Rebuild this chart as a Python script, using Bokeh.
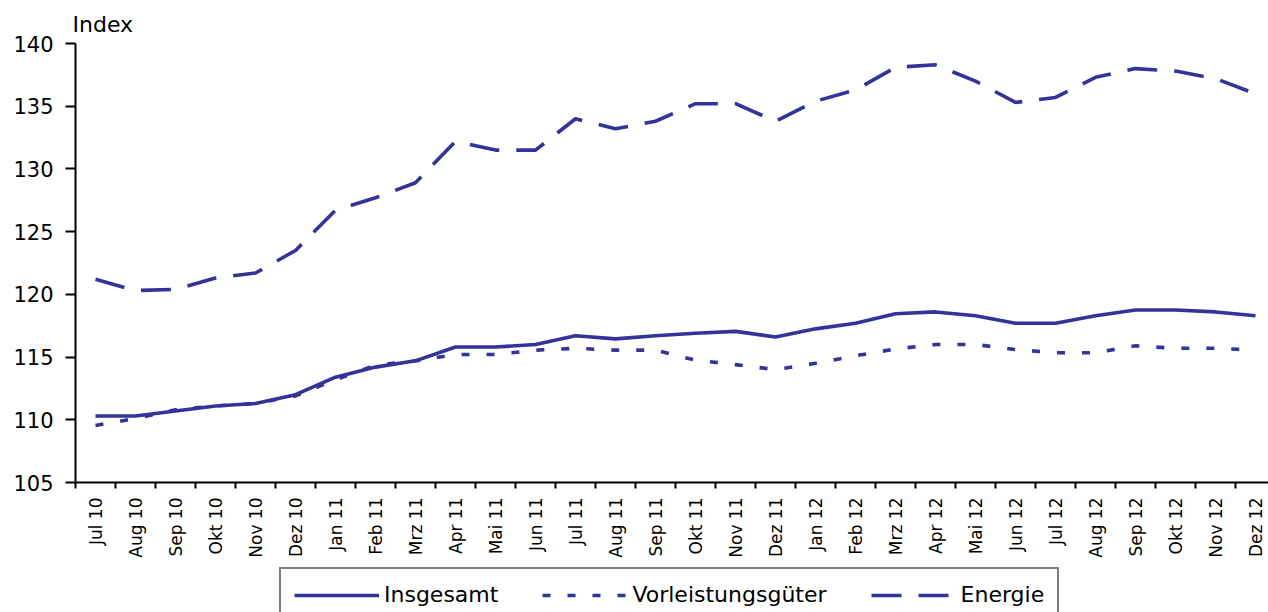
import math
from bokeh.plotting import figure
from bokeh.layouts import column
from bokeh.models import (Range1d, LinearAxis, FixedTicker, Legend, LegendItem, Title)
from bokeh.embed import file_html
from bokeh.resources import INLINE

months = ["Jul 10", "Aug 10", "Sep 10", "Okt 10", "Nov 10", "Dez 10",
          "Jan 11", "Feb 11", "Mrz 11", "Apr 11", "Mai 11", "Jun 11",
          "Jul 11", "Aug 11", "Sep 11", "Okt 11", "Nov 11", "Dez 11",
          "Jan 12", "Feb 12", "Mrz 12", "Apr 12", "Mai 12", "Jun 12",
          "Jul 12", "Aug 12", "Sep 12", "Okt 12", "Nov 12", "Dez 12"]

insgesamt = [110.3, 110.3, 110.7, 111.1, 111.3, 112.0, 113.4, 114.2, 114.7, 115.8,
             115.8, 116.0, 116.7, 116.45, 116.7, 116.9, 117.05, 116.6, 117.25, 117.7,
             118.45, 118.6, 118.3, 117.7, 117.7, 118.3, 118.75, 118.75, 118.6, 118.3]

vorleistung = [109.55, 110.1, 110.8, 111.1, 111.3, 111.9, 113.2, 114.35, 114.7, 115.2,
               115.2, 115.55, 115.7, 115.55, 115.55, 114.75, 114.4, 114.0, 114.5, 115.1,
               115.65, 116.0, 116.0, 115.6, 115.35, 115.35, 115.9, 115.7, 115.7, 115.55]

energie = [121.2, 120.3, 120.4, 121.3, 121.7, 123.5, 126.7, 127.7, 128.9, 132.2,
           131.5, 131.5, 134.0, 133.2, 133.8, 135.2, 135.2, 133.8, 135.4, 136.3,
           138.1, 138.3, 137.0, 135.3, 135.7, 137.3, 138.0, 137.8, 137.2, 136.0]

y_ticks = [105, 110, 115, 120, 125, 130, 135, 140]
series_names = ["Insgesamt", "Vorleistungsgüter", "Energie"]

COLOR = "#333399"
FONT = "DejaVu Sans"
DASHES = [None, "8 17", "30 17"]
LW = 3.6

xs = list(range(len(months)))

p = figure(width=1268, height=560, output_backend="svg", toolbar_location=None,
           x_range=Range1d(-0.5, 29.325), y_range=Range1d(105, 140),
           x_axis_type=None, y_axis_type=None,
           min_border_left=75, min_border_right=0, min_border_top=43, min_border_bottom=75)
p.outline_line_color = None
p.xgrid.visible = False
p.ygrid.visible = False
p.background_fill_color = "white"
p.border_fill_color = "white"

p.title = Title(text="Index", align="left", offset=-3, standoff=13,
                text_font=FONT, text_font_size="22px", text_font_style="normal",
                text_color="black")

p.line(xs, insgesamt, line_color=COLOR, line_width=LW, line_join="round")
p.line(xs, vorleistung, line_color=COLOR, line_width=LW, line_dash=DASHES[1])
p.line(xs, energie, line_color=COLOR, line_width=LW, line_dash=DASHES[2])

# y axis
yax = LinearAxis(ticker=FixedTicker(ticks=y_ticks))
yax.axis_line_color = "black"
yax.axis_line_width = 2
yax.major_tick_line_color = "black"
yax.major_tick_line_width = 2
yax.major_tick_out = 10
yax.major_tick_in = 0
yax.minor_tick_out = 0
yax.minor_tick_in = 0
yax.major_label_standoff = 12
yax.major_label_text_font = FONT
yax.major_label_text_font_size = "21px"
yax.major_label_text_color = "black"
p.add_layout(yax, "left")

# x axis: labels at month centres, tick marks between months
xax = LinearAxis(ticker=FixedTicker(ticks=xs, minor_ticks=[i - 0.5 for i in range(len(months) + 1)]))
xax.major_label_overrides = {i: m for i, m in enumerate(months)}
xax.major_label_orientation = math.pi / 2
xax.axis_line_color = "black"
xax.axis_line_width = 2
xax.major_tick_out = 0
xax.major_tick_in = 0
xax.minor_tick_out = 6
xax.minor_tick_in = 0
xax.minor_tick_line_color = "black"
xax.minor_tick_line_width = 2
xax.major_label_standoff = 9
xax.major_label_text_font = FONT
xax.major_label_text_font_size = "17px"
xax.major_label_text_color = "black"
p.add_layout(xax, "below")

# legend strip below the chart
pl = figure(width=1268, height=52, output_backend="svg", toolbar_location=None,
            x_range=Range1d(0, 1), y_range=Range1d(0, 1),
            x_axis_type=None, y_axis_type=None,
            min_border_left=0, min_border_right=0, min_border_top=0, min_border_bottom=0)
pl.outline_line_color = None
pl.xgrid.visible = False
pl.ygrid.visible = False
pl.background_fill_color = "white"
pl.border_fill_color = "white"

items = []
for name, dash in zip(series_names, DASHES):
    kw = dict(line_color=COLOR, line_width=LW)
    if dash:
        kw["line_dash"] = dash
    rr = pl.line([float("nan")], [float("nan")], **kw)
    items.append(LegendItem(label=name, renderers=[rr]))

legend = Legend(items=items, orientation="horizontal", location=(204, -10),
                glyph_width=85, glyph_height=20, label_standoff=5, spacing=44,
                padding=13, margin=0, label_text_font=FONT, label_text_font_size="22px",
                label_text_color="black", border_line_color="black", border_line_width=2,
                background_fill_color="white", background_fill_alpha=1)
pl.add_layout(legend, "center")

layout = column(p, pl, spacing=0)
open("out.html", "w").write(file_html(layout, INLINE))
